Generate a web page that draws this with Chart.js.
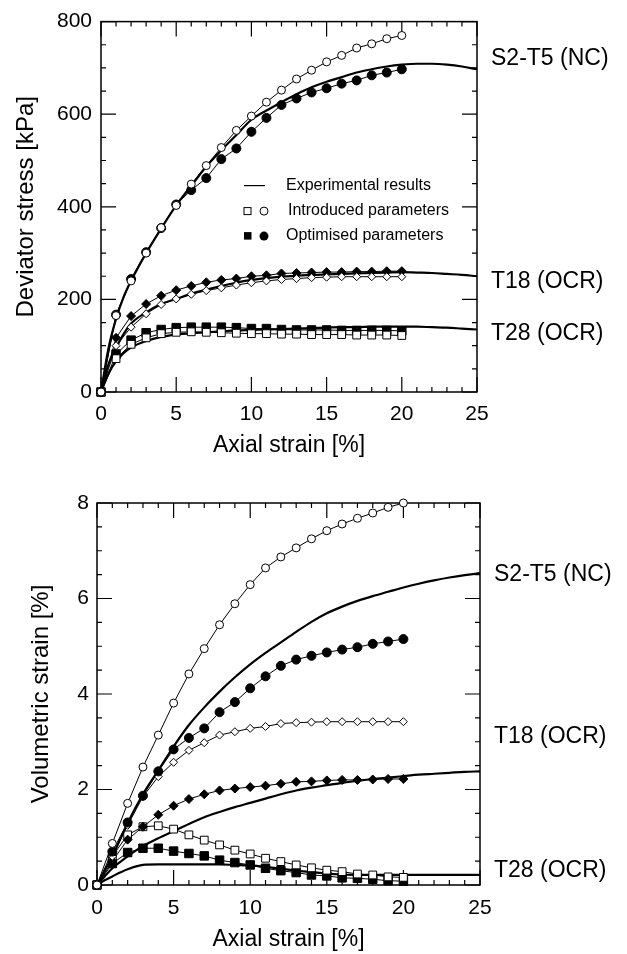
<!DOCTYPE html>
<html>
<head>
<meta charset="utf-8">
<script src="https://cdn.jsdelivr.net/npm/chart.js@4.4.1/dist/chart.umd.min.js"></script>
<style>
  body { margin: 0; background: #fff; }
  canvas { position: absolute; left: 0; }
  #stressChart { top: 0; }
  #volChart { top: 470px; }
</style>
</head>
<body>
<canvas id="stressChart" width="627" height="470"></canvas>
<canvas id="volChart" width="627" height="484"></canvas>
<script>
// Model points (every 1 % axial strain)
const strain = [0, 1, 2, 3, 4, 5, 6, 7, 8, 9, 10, 11, 12, 13, 14, 15, 16, 17, 18, 19, 20];
// Experimental curves
const expStrain = [0, 0.5, 1, 1.5, 2, 3, 4, 5, 6, 7, 8, 9, 10, 11, 12, 13, 14, 15, 16, 17, 18, 19, 20, 21, 22, 23, 24, 25];

// Deviator stress [kPa]
const s2t5Intro = [0, 165, 240, 300, 355, 403, 449, 489, 528, 565, 596, 626, 652, 676, 695, 713, 727, 743, 752, 763, 770];
const s2t5Opt   = [0, 167, 244, 302, 354, 405, 436, 462, 503, 526, 562, 592, 620, 634, 647, 656, 666, 673, 684, 690, 697];
const t18Intro  = [0, 100, 140, 169, 189, 201, 211, 219, 225, 231, 236, 240, 243, 245, 247, 248, 249, 249, 249, 249, 249];
const t18Opt    = [0, 117, 164, 190, 208, 220, 229, 237, 242, 245, 250, 252, 256, 257, 258, 259, 259, 260, 260, 261, 261];
const t28Intro  = [0, 72, 103, 117, 126, 129, 130, 129, 128, 127, 126, 126, 125, 125, 124, 124, 124, 123, 123, 123, 122];
const t28Opt    = [0, 82, 112, 128, 135, 139, 140, 140, 140, 139, 137, 137, 135, 134, 134, 134, 133, 133, 133, 133, 132];
const s2t5Exp = [0, 95, 158, 205, 240, 300, 353, 403, 445, 487, 522, 555, 588, 608, 626, 643, 658, 670, 680, 690, 697, 703, 707, 709, 709, 707, 703, 697];
const t18Exp  = [0, 60, 95, 125, 148, 172, 190, 201, 212, 221, 229, 236, 242, 246, 249, 251, 253, 254, 255, 256, 257, 258, 259, 258, 257, 255, 253, 250];
const t28Exp  = [0, 40, 66, 84, 96, 110, 119, 124, 127, 129, 131, 133, 134, 135, 136, 137, 138, 139, 140, 140, 141, 141, 141, 141, 140, 139, 137, 135];

// Volumetric strain [%]
const volS2t5Intro = [0, 0.87, 1.71, 2.47, 3.14, 3.81, 4.42, 4.95, 5.45, 5.89, 6.29, 6.64, 6.87, 7.06, 7.25, 7.42, 7.56, 7.68, 7.79, 7.91, 8.0];
const volS2t5Opt   = [0, 0.70, 1.31, 1.87, 2.38, 2.84, 3.08, 3.28, 3.62, 3.83, 4.12, 4.37, 4.59, 4.72, 4.80, 4.87, 4.93, 4.98, 5.05, 5.10, 5.15];
const volT18Intro  = [0, 0.60, 1.25, 1.85, 2.27, 2.57, 2.82, 2.98, 3.14, 3.21, 3.28, 3.32, 3.38, 3.40, 3.41, 3.42, 3.42, 3.42, 3.42, 3.42, 3.42];
const volT18Opt    = [0, 0.50, 0.95, 1.22, 1.47, 1.66, 1.80, 1.90, 1.98, 2.02, 2.05, 2.08, 2.12, 2.16, 2.17, 2.19, 2.20, 2.20, 2.21, 2.22, 2.22];
const volT28Intro  = [0, 0.60, 1.05, 1.22, 1.24, 1.17, 1.05, 0.94, 0.84, 0.73, 0.65, 0.56, 0.49, 0.42, 0.36, 0.31, 0.28, 0.23, 0.21, 0.17, 0.16];
const volT28Opt    = [0, 0.45, 0.68, 0.77, 0.77, 0.71, 0.66, 0.61, 0.52, 0.47, 0.42, 0.35, 0.30, 0.26, 0.21, 0.19, 0.15, 0.14, 0.12, 0.09, 0.08];
const volS2t5Exp = [0, 0.30, 0.60, 0.95, 1.30, 1.90, 2.40, 2.90, 3.35, 3.72, 4.05, 4.35, 4.62, 4.86, 5.08, 5.30, 5.51, 5.69, 5.83, 5.95, 6.05, 6.14, 6.23, 6.31, 6.38, 6.44, 6.49, 6.53];
const volT18Exp  = [0, 0.18, 0.35, 0.48, 0.60, 0.82, 0.98, 1.13, 1.28, 1.42, 1.53, 1.63, 1.72, 1.81, 1.90, 1.98, 2.04, 2.09, 2.14, 2.18, 2.22, 2.25, 2.28, 2.31, 2.33, 2.35, 2.37, 2.38];
const volT28Exp  = [0, 0.10, 0.18, 0.26, 0.33, 0.42, 0.43, 0.43, 0.43, 0.43, 0.43, 0.42, 0.41, 0.38, 0.34, 0.30, 0.27, 0.24, 0.22, 0.21, 0.21, 0.21, 0.21, 0.21, 0.21, 0.21, 0.21, 0.21];

// Test names at the right of each panel, and where they sit on the y axis
const testNames = ['S2-T5 (NC)', 'T18 (OCR)', 'T28 (OCR)'];
const stressNameY = [720, 238, 127];
const volNameY = [6.5, 3.11, 0.31];

const legendTexts = ['Experimental results', 'Introduced parameters', 'Optimised parameters'];

const FONT = '"Liberation Sans", Arial, Helvetica, sans-serif';

const pts = (xs, ys) => xs.map((x, i) => ({ x: x, y: ys[i] }));

function modelSet(ys, style, filled, r) {
  return {
    data: pts(strain, ys),
    borderColor: '#000',
    borderWidth: 1,
    backgroundColor: filled ? '#000' : '#fff',
    pointStyle: style,
    pointRadius: r,
    pointBorderWidth: 1,
    pointBorderColor: '#000',
    pointBackgroundColor: filled ? '#000' : '#fff',
    tension: 0,
    clip: false
  };
}

function expSet(ys) {
  return {
    data: pts(expStrain, ys),
    borderColor: '#000',
    borderWidth: 2.2,
    pointRadius: 0,
    cubicInterpolationMode: 'monotone',
    clip: false
  };
}

// Box with inward ticks on all four sides
const frameTicks = {
  id: 'frameTicks',
  beforeDatasetsDraw(chart, args, opts) {
    const { ctx, chartArea: a } = chart;
    const x = chart.scales.x, y = chart.scales.y;
    ctx.save();
    ctx.strokeStyle = '#000';
    ctx.lineWidth = 1.2;
    ctx.beginPath();
    const nx = Math.round((x.max - x.min) / opts.xMinor);
    for (let i = 0; i <= nx; i++) {
      const v = x.min + i * opts.xMinor;
      const px = x.getPixelForValue(v);
      const len = Math.abs(v / opts.xMajor - Math.round(v / opts.xMajor)) < 1e-6 ? 15 : 5;
      ctx.moveTo(px, a.bottom); ctx.lineTo(px, a.bottom - len);
      ctx.moveTo(px, a.top); ctx.lineTo(px, a.top + len);
    }
    const ny = Math.round((y.max - y.min) / opts.yMinor);
    for (let i = 0; i <= ny; i++) {
      const v = y.min + i * opts.yMinor;
      const py = y.getPixelForValue(v);
      const len = Math.abs(v / opts.yMajor - Math.round(v / opts.yMajor)) < 1e-6 ? 15 : 5;
      ctx.moveTo(a.left, py); ctx.lineTo(a.left + len, py);
      ctx.moveTo(a.right, py); ctx.lineTo(a.right - len, py);
    }
    ctx.stroke();
    ctx.lineWidth = 1.5;
    ctx.strokeRect(a.left, a.top, a.right - a.left, a.bottom - a.top);
    ctx.restore();
  }
};

// Test names on the right, and the hand-made legend
const sideText = {
  id: 'sideText',
  afterDraw(chart, args, opts) {
    const { ctx, chartArea: a } = chart;
    const y = chart.scales.y;
    ctx.save();
    ctx.fillStyle = '#000';
    ctx.font = '23px ' + FONT;
    ctx.textAlign = 'left';
    ctx.textBaseline = 'middle';
    testNames.forEach((t, i) => ctx.fillText(t, a.right + 14, y.getPixelForValue(opts.names[i])));

    if (opts.legend) {
      const lx = a.left + 143, ly = a.top + 164, gap = 25;
      ctx.font = '16px ' + FONT;
      ctx.strokeStyle = '#000';
      ctx.lineWidth = 1.2;
      ctx.beginPath();
      ctx.moveTo(lx, ly); ctx.lineTo(lx + 21, ly);
      ctx.stroke();
      // open square + circle
      ctx.lineWidth = 1;
      ctx.strokeRect(lx, ly + gap + 0.5 - 3.5, 7, 7);
      ctx.beginPath(); ctx.arc(lx + 20, ly + gap + 0.5, 4, 0, Math.PI * 2); ctx.stroke();
      // filled square + circle
      ctx.fillRect(lx, ly + 2 * gap - 3.5, 7.5, 7.5);
      ctx.beginPath(); ctx.arc(lx + 20, ly + 2 * gap + 0.5, 4.5, 0, Math.PI * 2); ctx.fill();
      ctx.fillText(legendTexts[0], lx + 42, ly);
      ctx.fillText(legendTexts[1], lx + 44, ly + gap);
      ctx.fillText(legendTexts[2], lx + 42, ly + 2 * gap);
    }
    ctx.restore();
  }
};

function makeChart(id, cfg) {
  return new Chart(document.getElementById(id).getContext('2d'), {
    type: 'line',
    data: { datasets: cfg.datasets },
    options: {
      responsive: false,
      animation: false,
      events: [],
      layout: { padding: cfg.padding },
      plugins: {
        legend: { display: false },
        tooltip: { enabled: false },
        frameTicks: cfg.ticks,
        sideText: { names: cfg.names, legend: cfg.legend }
      },
      scales: {
        x: {
          type: 'linear', min: 0, max: 25,
          grid: { display: false, drawTicks: false },
          border: { display: false },
          ticks: { stepSize: 5, autoSkip: false, maxRotation: 0, padding: cfg.xTickPad, color: '#000', font: { family: FONT, size: 21 } },
          title: { display: true, text: 'Axial strain [%]', color: '#000', font: { family: FONT, size: 23 }, padding: { top: 0, bottom: cfg.xTitlePad } },
          afterFit: (s) => { s.height = cfg.xHeight; }
        },
        y: {
          type: 'linear', min: cfg.yMin, max: cfg.yMax,
          grid: { display: false, drawTicks: false },
          border: { display: false },
          ticks: { stepSize: cfg.yStep, autoSkip: false, padding: cfg.yTickPad, color: '#000', font: { family: FONT, size: 21 } },
          title: { display: true, text: cfg.yTitle, color: '#000', font: { family: FONT, size: 24 }, padding: { top: cfg.yTitlePad, bottom: 0 } },
          afterFit: (s) => { s.width = cfg.yWidth; }
        }
      }
    },
    plugins: [frameTicks, sideText]
  });
}

makeChart('stressChart', {
  datasets: [
    modelSet(s2t5Intro, 'circle', false, 4),
    modelSet(s2t5Opt, 'circle', true, 4.5),
    modelSet(t18Intro, 'rectRot', false, 4),
    modelSet(t18Opt, 'rectRot', true, 4.5),
    modelSet(t28Intro, 'rect', false, 5.5),
    modelSet(t28Opt, 'rect', true, 6),
    expSet(s2t5Exp),
    expSet(t18Exp),
    expSet(t28Exp)
  ],
  padding: { top: 17, right: 150, left: 0, bottom: 0 },
  yMin: 0, yMax: 800, yStep: 200,
  yTitle: 'Deviator stress [kPa]',
  yWidth: 101, xHeight: 78,
  xTickPad: 10, yTickPad: 9, xTitlePad: 11, yTitlePad: 12,
  ticks: { xMinor: 1, xMajor: 5, yMinor: 50, yMajor: 200 },
  names: stressNameY,
  legend: true
});

makeChart('volChart', {
  datasets: [
    modelSet(volS2t5Intro, 'circle', false, 4),
    modelSet(volS2t5Opt, 'circle', true, 4.5),
    modelSet(volT18Intro, 'rectRot', false, 4),
    modelSet(volT18Opt, 'rectRot', true, 4.5),
    modelSet(volT28Intro, 'rect', false, 5.5),
    modelSet(volT28Opt, 'rect', true, 6),
    expSet(volS2t5Exp),
    expSet(volT18Exp),
    expSet(volT28Exp)
  ],
  padding: { top: 33, right: 147, left: 0, bottom: 0 },
  yMin: 0, yMax: 8, yStep: 2,
  yTitle: 'Volumetric strain [%]',
  yWidth: 97, xHeight: 69,
  xTickPad: 11, yTickPad: 8, xTitlePad: 1, yTitlePad: 27,
  ticks: { xMinor: 1, xMajor: 5, yMinor: 0.5, yMajor: 2 },
  names: volNameY,
  legend: false
});
</script>
</body>
</html>
